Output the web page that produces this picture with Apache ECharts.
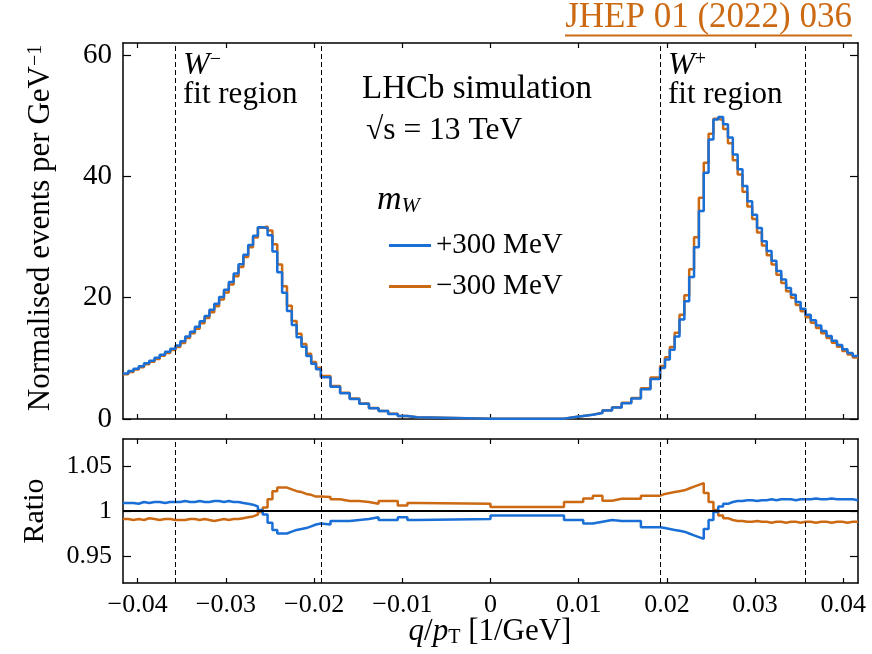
<!DOCTYPE html>
<html>
<head>
<meta charset="utf-8">
<script src="https://cdn.jsdelivr.net/npm/echarts@6/dist/echarts.min.js"></script>
<style>
  html, body { margin: 0; padding: 0; background: #fff; }
  #chart { width: 872px; height: 654px; }
</style>
</head>
<body>
<div id="chart"></div>
<script>
// Histogram binning in q/pT [1/GeV]: [lower edge, upper edge, number of equal-width bins]
const binSections = [
  [-1 / 24, -1 / 28, 10],
  [-1 / 28, -1 / 52, 30],
  [-1 / 52, -1 / 120, 10],
  [-1 / 120, 0, 1],
  [0, 1 / 120, 1],
  [1 / 120, 1 / 52, 10],
  [1 / 52, 1 / 28, 30],
  [1 / 28, 1 / 24, 10]
];

// Boundaries of the W- and W+ fit regions (28 < pT < 52 GeV)
const fitRegionEdges = [-1 / 28, -1 / 52, 1 / 52, 1 / 28];

// Axis ticks
const xTicks = [-0.04, -0.03, -0.02, -0.01, 0, 0.01, 0.02, 0.03, 0.04];
const yTicksMain = [0, 20, 40, 60];
const yTicksRatio = [0.95, 1, 1.05];

// Normalised events per GeV^-1, mW shifted by +300 MeV
const eventsPlus = [
  7.5, 7.9, 8.3, 8.7, 9.2, 9.6, 10.1, 10.6, 11.1, 11.6,
  12.1, 12.8, 13.6, 14.4, 15.2, 16.1, 17.0, 18.0, 19.0, 20.1,
  21.3, 22.6, 24.0, 25.5, 27.1, 28.7, 30.2, 31.6, 31.5, 30.3,
  27.6, 24.2, 20.8, 17.8, 15.5, 13.5, 11.9, 10.4, 9.1, 8.2,
  6.9, 5.3, 4.25, 3.3, 2.5, 1.77, 1.3, 0.83, 0.5, 0.28,
  0.06, 0.06,
  0.28, 0.5, 0.7, 1.0, 1.4, 1.9, 2.6, 3.4, 4.9, 6.6,
  8.4, 9.8, 11.4, 13.6, 16.4, 19.4, 23.4, 28.3, 34.3, 40.6,
  46.1, 49.4, 49.8, 48.6, 46.4, 43.6, 41.2, 38.4, 35.9, 33.7,
  31.5, 29.3, 27.7, 26.1, 24.4, 23.0, 21.6, 20.5, 19.3, 18.2,
  17.2, 16.3, 15.4, 14.5, 13.7, 12.9, 12.2, 11.5, 10.9, 10.4
];

// Normalised events per GeV^-1, mW shifted by -300 MeV
const eventsMinus = [
  7.37, 7.75, 8.16, 8.53, 9.04, 9.42, 9.90, 10.41, 10.89, 11.37,
  11.86, 12.53, 13.34, 14.13, 14.88, 15.80, 16.66, 17.61, 18.61, 19.72,
  20.86, 22.17, 23.55, 25.07, 26.70, 28.33, 29.93, 31.54, 31.75, 31.10,
  28.81, 25.47, 21.89, 18.66, 16.18, 14.06, 12.36, 10.77, 9.39, 8.45,
  7.11, 5.43, 4.34, 3.37, 2.55, 1.80, 1.33, 0.85, 0.51, 0.285,
  0.061, 0.061,
  0.286, 0.51, 0.72, 1.03, 1.43, 1.95, 2.66, 3.48, 5.07, 6.84,
  8.73, 10.20, 11.89, 14.21, 17.17, 20.39, 24.70, 29.99, 36.49, 42.26,
  47.03, 49.50, 49.30, 47.83, 45.48, 42.65, 40.30, 37.49, 35.05, 32.97,
  30.75, 28.61, 26.99, 25.48, 23.80, 22.41, 21.07, 20.01, 18.80, 17.75,
  16.78, 15.87, 15.02, 14.14, 13.34, 12.58, 11.90, 11.20, 10.63, 10.15
];

// Ratio to the nominal template, +300 MeV
const ratioPlus = [
  1.009, 1.009, 1.008, 1.010, 1.009, 1.010, 1.010, 1.009, 1.010, 1.010,
  1.010, 1.011, 1.010, 1.010, 1.011, 1.010, 1.010, 1.011, 1.011, 1.010,
  1.011, 1.010, 1.010, 1.009, 1.008, 1.007, 1.005, 1.001, 0.996, 0.987,
  0.979, 0.975, 0.975, 0.977, 0.979, 0.980, 0.981, 0.983, 0.985, 0.986,
  0.985, 0.989, 0.989, 0.990, 0.991, 0.993, 0.990, 0.990, 0.993, 0.990,
  0.991, 0.995,
  0.990, 0.990, 0.986, 0.988, 0.990, 0.989, 0.989, 0.989, 0.982, 0.982,
  0.981, 0.980, 0.979, 0.978, 0.977, 0.975, 0.973, 0.971, 0.969, 0.980,
  0.990, 0.999, 1.005, 1.008, 1.010, 1.011, 1.011, 1.012, 1.012, 1.011,
  1.012, 1.012, 1.013, 1.012, 1.013, 1.013, 1.013, 1.012, 1.013, 1.013,
  1.013, 1.014, 1.013, 1.013, 1.014, 1.013, 1.013, 1.013, 1.013, 1.012
];

// Ratio to the nominal template, -300 MeV
const ratioMinus = [
  0.991, 0.990, 0.991, 0.990, 0.992, 0.991, 0.990, 0.991, 0.991, 0.990,
  0.990, 0.990, 0.991, 0.991, 0.990, 0.991, 0.990, 0.989, 0.990, 0.991,
  0.990, 0.991, 0.991, 0.992, 0.993, 0.994, 0.996, 0.999, 1.004, 1.013,
  1.022, 1.026, 1.026, 1.024, 1.022, 1.021, 1.019, 1.018, 1.016, 1.016,
  1.0155, 1.013, 1.011, 1.011, 1.010, 1.008, 1.011, 1.011, 1.006, 1.009,
  1.008, 1.0045,
  1.010, 1.010, 1.014, 1.017, 1.0115, 1.0135, 1.0135, 1.0135, 1.017, 1.017,
  1.019, 1.020, 1.021, 1.022, 1.023, 1.025, 1.027, 1.029, 1.031, 1.020,
  1.010, 1.001, 0.995, 0.992, 0.990, 0.989, 0.989, 0.988, 0.988, 0.989,
  0.988, 0.988, 0.987, 0.988, 0.988, 0.987, 0.988, 0.988, 0.987, 0.988,
  0.988, 0.987, 0.988, 0.988, 0.987, 0.988, 0.988, 0.987, 0.988, 0.988
];

const seriesNames = ['+300 MeV', '\u2212300 MeV'];

// ---------------------------------------------------------------------------
const FONT = 'Liberation Serif';
const BLUE = '#1a6fd6';
const ORANGE = '#cc6a14';
const BLACK = '#000';
const X_MIN = -1 / 24, X_MAX = 1 / 24;

// Bin edges from the section definitions
const binEdges = [];
binSections.forEach(([lo, hi, n], s) => {
  for (let i = s === 0 ? 0 : 1; i <= n; i++) binEdges.push(lo + (hi - lo) * i / n);
});

// Step-histogram points: each bin starts at its lower edge, last point closes the final bin
function stepData(values) {
  const pts = values.map((v, i) => [binEdges[i], v]);
  pts.push([binEdges[values.length], values[values.length - 1]]);
  return pts;
}

const fmtX = v => Math.abs(v) < 1e-9 ? '0' : (v < 0 ? '\u2212' : '') + Math.abs(v).toFixed(2);
const fmtRatio = v => Math.abs(v - 1) < 1e-9 ? '1' : v.toFixed(2);

const frameLine = { show: true, onZero: false, lineStyle: { color: BLACK, width: 1.5 } };
const tickStyle = { color: BLACK, width: 1.2 };

function xAxisDef(gridIndex, position, withLabels) {
  return {
    type: 'value', gridIndex, position, min: X_MIN, max: X_MAX,
    axisLine: frameLine,
    axisTick: { show: true, inside: true, length: 5, customValues: xTicks, lineStyle: tickStyle },
    axisLabel: withLabels
      ? { show: true, customValues: xTicks, formatter: fmtX, margin: 9,
          fontFamily: FONT, fontSize: 26, color: BLACK }
      : { show: false },
    splitLine: { show: false }
  };
}

function yAxisDef(gridIndex, position, min, max, ticks, withLabels, fontSize, formatter) {
  return {
    type: 'value', gridIndex, position, min, max,
    axisLine: frameLine,
    axisTick: { show: true, inside: true, length: 8, customValues: ticks, lineStyle: tickStyle },
    axisLabel: withLabels
      ? { show: true, customValues: ticks, formatter, margin: 11,
          fontFamily: FONT, fontSize, color: BLACK }
      : { show: false },
    splitLine: { show: false }
  };
}

const dashedFitLines = {
  silent: true,
  precision: 6,
  symbol: ['none', 'none'],
  label: { show: false },
  emphasis: { disabled: true },
  lineStyle: { color: BLACK, width: 1, type: [5, 3] },
  data: fitRegionEdges.map(v => ({ xAxis: v }))
};

const unityLine = {
  silent: true,
  precision: 6,
  symbol: ['none', 'none'],
  label: { show: false },
  emphasis: { disabled: true },
  lineStyle: { color: BLACK, width: 2, type: 'solid' },
  data: [{ yAxis: 1 }]
};

function histSeries(name, color, values, xi, yi, markLine) {
  const s = {
    name, type: 'line', step: 'end',
    xAxisIndex: xi, yAxisIndex: yi,
    data: stepData(values),
    showSymbol: false, symbol: 'none',
    lineStyle: { color, width: 2.5 },
    itemStyle: { color },
    emphasis: { disabled: true },
    animation: false
  };
  if (markLine) s.markLine = markLine;
  return s;
}

const option = {
  animation: false,
  backgroundColor: '#fff',
  grid: [
    { left: 123, top: 43, width: 735, height: 376 },
    { left: 123, top: 439, width: 735, height: 144 }
  ],
  xAxis: [
    xAxisDef(0, 'bottom', false),
    xAxisDef(0, 'top', false),
    xAxisDef(1, 'bottom', true),
    xAxisDef(1, 'top', false)
  ],
  yAxis: [
    yAxisDef(0, 'left', 0, 62, yTicksMain, true, 29, v => String(v)),
    yAxisDef(0, 'right', 0, 62, yTicksMain, false),
    yAxisDef(1, 'left', 0.92, 1.08, yTicksRatio, true, 26, fmtRatio),
    yAxisDef(1, 'right', 0.92, 1.08, yTicksRatio, false)
  ],
  legend: {
    data: seriesNames,
    orient: 'vertical',
    left: 384, top: 226,
    icon: 'rect', itemWidth: 42, itemHeight: 3, itemGap: 12,
    selectedMode: false,
    textStyle: { fontFamily: FONT, fontSize: 29, color: BLACK }
  },
  series: [
    histSeries(seriesNames[1], ORANGE, eventsMinus, 0, 0, dashedFitLines),
    histSeries(seriesNames[0], BLUE, eventsPlus, 0, 0),
    histSeries(seriesNames[1], ORANGE, ratioMinus, 2, 2, dashedFitLines),
    histSeries(seriesNames[0], BLUE, ratioPlus, 2, 2, unityLine)
  ],
  graphic: [
    // Publication reference
    { type: 'text', x: 852, y: 18,
      style: { text: 'JHEP 01 (2022) 036', fill: ORANGE, fontFamily: FONT, fontSize: 35,
               align: 'right', verticalAlign: 'middle' } },
    { type: 'line', shape: { x1: 565, y1: 35.5, x2: 852, y2: 35.5 },
      style: { stroke: ORANGE, lineWidth: 2 } },
    // Axis titles
    { type: 'text', x: 41, y: 228, rotation: Math.PI / 2,
      style: { text: '{n|Normalised events per GeV}{s|\u22121}', align: 'center', verticalAlign: 'middle',
               rich: { n: { fontFamily: FONT, fontSize: 31, fill: BLACK },
                       s: { fontFamily: FONT, fontSize: 20, fill: BLACK, verticalAlign: 'top', lineHeight: 12 } } } },
    { type: 'text', x: 35, y: 511, rotation: Math.PI / 2,
      style: { text: 'Ratio', fill: BLACK, fontFamily: FONT, fontSize: 30, align: 'center', verticalAlign: 'middle' } },
    { type: 'text', x: 490, y: 632,
      style: { text: '{i|q}{n|/}{i|p}{sub|T}{n| [1/GeV]}', align: 'center', verticalAlign: 'middle',
               rich: { i: { fontFamily: FONT, fontSize: 31, fontStyle: 'italic', fill: BLACK },
                       n: { fontFamily: FONT, fontSize: 31, fill: BLACK },
                       sub: { fontFamily: FONT, fontSize: 20, fill: BLACK, verticalAlign: 'bottom', lineHeight: 8 } } } },
    // Fit-region labels
    { type: 'text', x: 183, y: 66,
      style: { text: '{w|W}{s|\u2212}', align: 'left', verticalAlign: 'middle',
               rich: { w: { fontFamily: FONT, fontSize: 32, fontStyle: 'italic', fill: BLACK },
                       s: { fontFamily: FONT, fontSize: 20, fill: BLACK, verticalAlign: 'top', lineHeight: 12 } } } },
    { type: 'text', x: 183, y: 95,
      style: { text: 'fit region', fill: BLACK, fontFamily: FONT, fontSize: 31, align: 'left', verticalAlign: 'middle' } },
    { type: 'text', x: 668, y: 66,
      style: { text: '{w|W}{s|+}', align: 'left', verticalAlign: 'middle',
               rich: { w: { fontFamily: FONT, fontSize: 32, fontStyle: 'italic', fill: BLACK },
                       s: { fontFamily: FONT, fontSize: 20, fill: BLACK, verticalAlign: 'top', lineHeight: 12 } } } },
    { type: 'text', x: 668, y: 95,
      style: { text: 'fit region', fill: BLACK, fontFamily: FONT, fontSize: 31, align: 'left', verticalAlign: 'middle' } },
    // Experiment and energy
    { type: 'text', x: 362, y: 89,
      style: { text: 'LHCb simulation', fill: BLACK, fontFamily: FONT, fontSize: 33, align: 'left', verticalAlign: 'middle' } },
    { type: 'text', x: 366, y: 131,
      style: { text: '\u221As = 13 TeV', fill: BLACK, fontFamily: FONT, fontSize: 31.5, align: 'left', verticalAlign: 'middle' } },
    // Legend header
    { type: 'text', x: 377, y: 200,
      style: { text: '{m|m}{sub|W}', align: 'left', verticalAlign: 'middle',
               rich: { m: { fontFamily: FONT, fontSize: 34, fontStyle: 'italic', fill: BLACK },
                       sub: { fontFamily: FONT, fontSize: 22, fontStyle: 'italic', fill: BLACK, verticalAlign: 'bottom', lineHeight: 8 } } } }
  ]
};

const chart = echarts.init(document.getElementById('chart'), null, { renderer: 'canvas' });
chart.setOption(option);
</script>
</body>
</html>
